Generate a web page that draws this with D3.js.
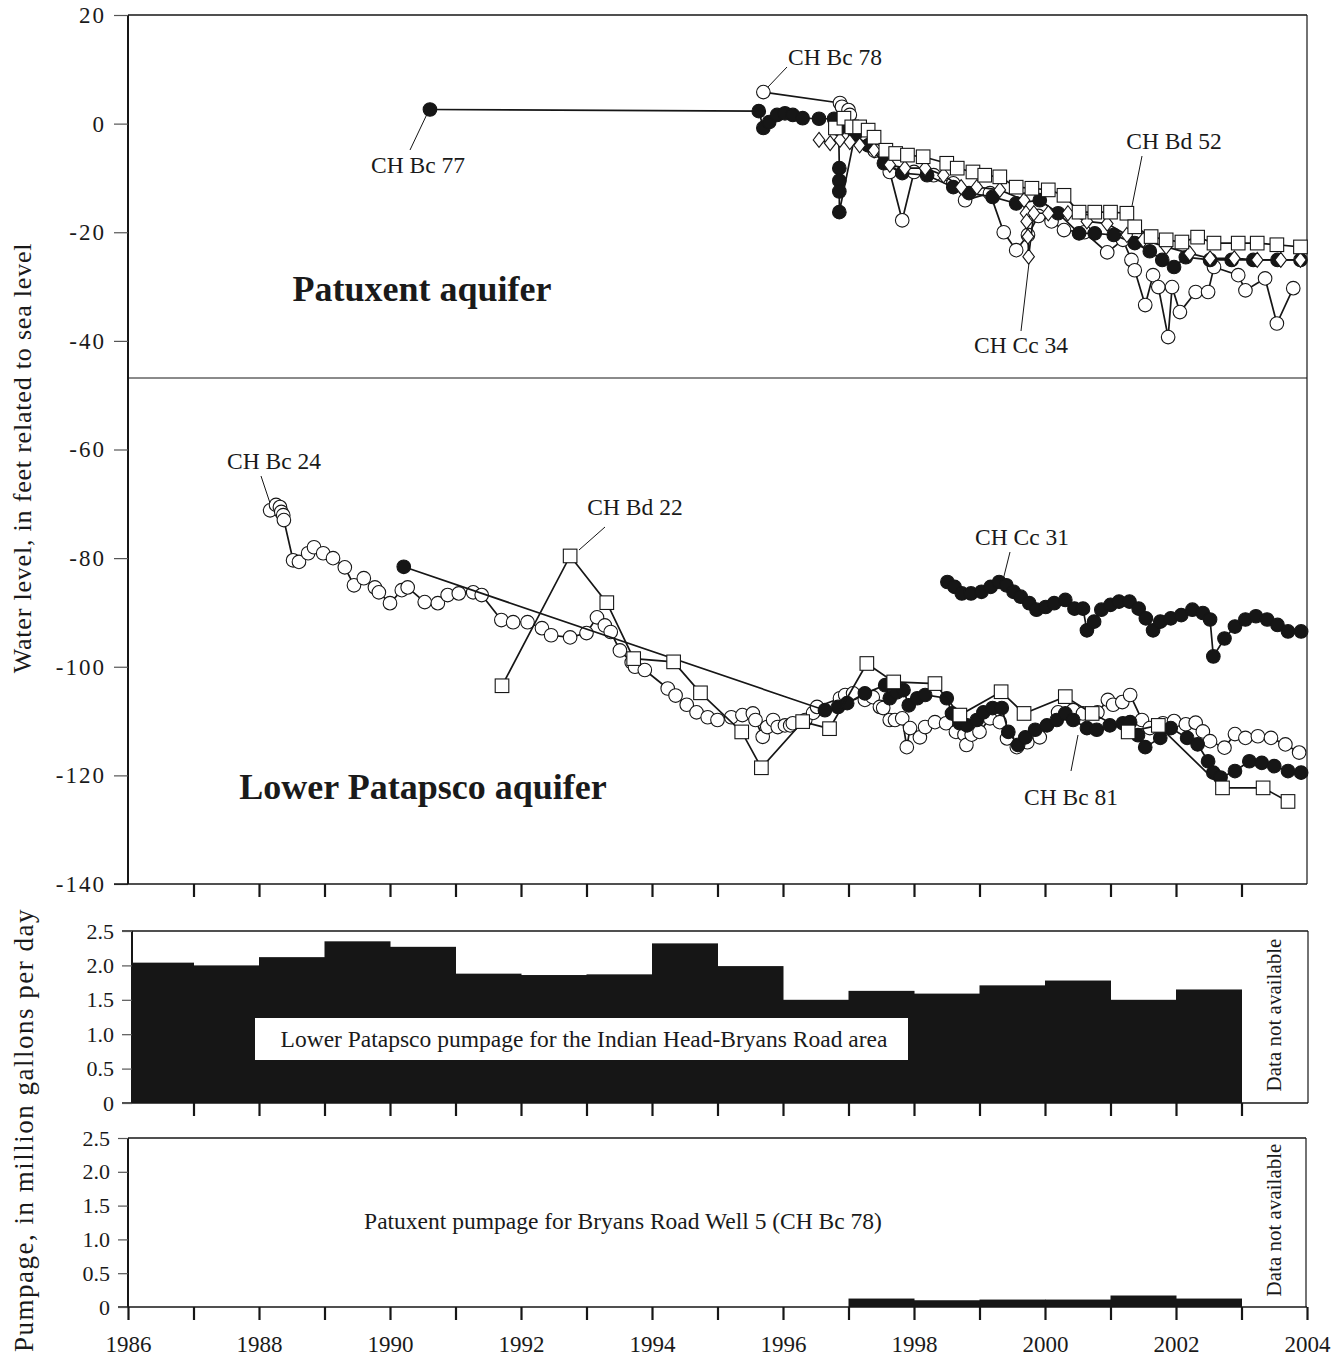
<!DOCTYPE html>
<html>
<head>
<meta charset="utf-8">
<script src="https://cdn.jsdelivr.net/npm/d3@7"></script>
<style>
  body { margin: 0; background: #fff; }
  svg text { font-family: "Liberation Serif", "Times New Roman", serif; fill: #1a1a1a; }
</style>
</head>
<body>
<svg id="chart" width="1344" height="1360"></svg>
<script>
// ---- data: [decimal year, water level (ft)] ----
const bc77 = [[1990.61, 2.6], [1995.63, 2.3], [1995.7, -0.8], [1995.79, 0.3], [1995.91, 1.6], [1996.03, 1.9],
  [1996.15, 1.6], [1996.3, 1.0], [1996.55, 0.9], [1996.78, 0.9], [1996.85, -1.0], [1996.86, -8.2], [1996.86, -10.5],
  [1996.86, -12.5], [1996.86, -16.3], [1997.1, -2.0], [1997.3, -4.0], [1997.54, -7.3], [1997.82, -9.1],
  [1998.2, -9.5], [1998.6, -11.7], [1998.84, -12.8], [1999.2, -13.5], [1999.56, -14.7], [1999.92, -14.1],
  [2000.2, -16.5], [2000.52, -20.2], [2000.76, -20.2], [2001.05, -20.5], [2001.37, -22], [2001.6, -23.5],
  [2001.79, -25.1], [2001.97, -26.4], [2002.15, -24.6], [2002.52, -25.1], [2002.85, -25.1], [2003.18, -25.1],
  [2003.55, -25.1], [2003.9, -25.1]];

const bc78 = [[1995.7, 5.8], [1996.87, 3.8], [1996.9, 3.1], [1997.0, 2.5], [1997.02, 1.6], [1997.2, -2.0],
  [1997.4, -5.0], [1997.63, -8.9], [1997.82, -17.8], [1998.0, -8.9], [1998.3, -9.5], [1998.6, -11.0],
  [1998.78, -14.1], [1999.16, -12.8], [1999.37, -20.0], [1999.56, -23.3], [1999.74, -20.5], [1999.9, -17.0],
  [2000.1, -18.0], [2000.29, -19.6], [2000.6, -20.0], [2000.95, -23.7], [2001.19, -21.4], [2001.32, -25.1],
  [2001.37, -27.0], [2001.53, -33.4], [2001.65, -27.9], [2001.73, -30.1], [2001.88, -39.3], [2001.94, -30.1],
  [2002.06, -34.7], [2002.3, -31.0], [2002.49, -31.0], [2002.58, -26.4], [2002.95, -27.9], [2003.06, -30.7],
  [2003.36, -28.5], [2003.54, -36.8], [2003.79, -30.3]];

const bd52 = [[1996.8, -0.8], [1996.93, 1.0], [1997.05, -0.6], [1997.17, -0.6], [1997.3, -1.2], [1997.39, -2.5],
  [1997.57, -4.9], [1997.72, -5.5], [1997.9, -5.8], [1998.14, -6.1], [1998.5, -7.3], [1998.66, -8.2],
  [1998.9, -8.9], [1999.08, -9.5], [1999.31, -9.8], [1999.56, -11.7], [1999.8, -11.9], [2000.05, -12.2],
  [2000.29, -13.2], [2000.52, -16.3], [2000.76, -16.3], [2001.0, -16.3], [2001.25, -16.5], [2001.37, -19.0],
  [2001.62, -20.8], [2001.85, -21.4], [2002.09, -21.8], [2002.33, -20.9], [2002.58, -22.0], [2002.95, -22.0],
  [2003.24, -22.0], [2003.54, -22.3], [2003.9, -22.7]];

const cc34 = [[1996.55, -3.0], [1996.72, -3.6], [1996.87, -3.0], [1997.02, -3.4], [1997.17, -4.0], [1997.39, -4.9],
  [1997.63, -7.6], [1997.86, -8.2], [1998.17, -8.2], [1998.45, -9.5], [1998.72, -11.7], [1998.96, -11.7],
  [1999.31, -12.2], [1999.68, -14.1], [1999.71, -16.5], [1999.72, -18.0], [1999.74, -20.8], [1999.75, -24.5],
  [1999.83, -16.5], [2000.05, -16.5], [2000.35, -16.5], [2000.64, -18.0], [2000.95, -18.4], [2001.25, -20.5],
  [2001.5, -21.4], [2001.85, -22.7], [2002.21, -23.9], [2002.52, -24.8], [2002.89, -24.8], [2003.24, -25.1],
  [2003.6, -25.1], [2003.9, -25.1]];

const bc24 = [[1988.17, -71.2], [1988.26, -70.2], [1988.32, -70.6], [1988.34, -71.5], [1988.37, -72.1],
  [1988.38, -73.0], [1988.52, -80.4], [1988.61, -80.7], [1988.75, -79.1], [1988.84, -78.0], [1988.98, -79.1],
  [1989.13, -80.0], [1989.31, -81.7], [1989.45, -85.0], [1989.6, -83.7], [1989.77, -85.4], [1989.83, -86.3],
  [1990.0, -88.3], [1990.18, -85.9], [1990.27, -85.4], [1990.53, -88.1], [1990.73, -88.3], [1990.88, -86.8],
  [1991.05, -86.5], [1991.27, -86.3], [1991.4, -86.8], [1991.7, -91.4], [1991.88, -91.8], [1992.1, -91.8],
  [1992.32, -92.9], [1992.46, -94.2], [1992.75, -94.6], [1993.0, -93.8], [1993.16, -90.9], [1993.28, -92.4],
  [1993.37, -93.6], [1993.51, -97.0], [1993.69, -99.2], [1993.74, -100.0], [1993.89, -100.6], [1994.24, -104.0],
  [1994.36, -105.3], [1994.53, -107.0], [1994.68, -108.4], [1994.85, -109.3], [1995.0, -109.8],
  [1995.21, -109.3], [1995.38, -108.9], [1995.54, -108.6], [1995.58, -109.8], [1995.69, -112.9],
  [1995.76, -111.1], [1995.85, -109.8], [1995.92, -111.1], [1996.03, -110.8], [1996.11, -110.8],
  [1996.15, -110.4], [1996.34, -109.8], [1996.46, -108.5], [1996.52, -107.4], [1996.87, -105.8],
  [1996.95, -105.2], [1997.07, -104.9], [1997.25, -106.1], [1997.37, -105.6], [1997.48, -107.4],
  [1997.53, -107.6], [1997.63, -109.8], [1997.71, -109.8], [1997.82, -109.5], [1997.89, -114.8],
  [1997.94, -111.3], [1998.09, -113.0], [1998.17, -111.1], [1998.32, -110.2], [1998.49, -110.4],
  [1998.64, -112.0], [1998.77, -112.5], [1998.8, -114.4], [1998.88, -112.5], [1999.0, -112.0],
  [1999.16, -109.5], [1999.31, -110.2], [1999.42, -113.2], [1999.57, -114.8], [1999.73, -113.9],
  [1999.92, -113.0], [2000.2, -108.4], [2000.43, -108.0], [2000.58, -108.6], [2000.8, -108.4],
  [2000.96, -106.1], [2001.04, -107.0], [2001.18, -106.5], [2001.3, -105.2], [2001.48, -109.8],
  [2001.6, -111.3], [2001.8, -110.4], [2001.97, -110.0], [2002.15, -110.6], [2002.3, -110.3],
  [2002.41, -111.9], [2002.52, -113.7], [2002.74, -114.9], [2002.9, -112.4], [2003.06, -113.1],
  [2003.25, -112.8], [2003.45, -113.1], [2003.67, -114.3], [2003.88, -115.8]];

const bc81 = [[1990.21, -81.6], [1996.64, -108.0], [1996.84, -107.4], [1996.98, -106.7], [1997.25, -104.9],
  [1997.56, -103.4], [1997.63, -105.8], [1997.74, -104.7], [1997.84, -104.3], [1997.92, -107.1],
  [1998.05, -105.8], [1998.17, -105.2], [1998.5, -105.8], [1998.58, -108.6], [1998.7, -110.4],
  [1998.81, -110.8], [1998.96, -109.8], [1999.06, -108.4], [1999.2, -107.6], [1999.34, -107.6],
  [1999.44, -112.0], [1999.59, -114.4], [1999.7, -113.0], [1999.85, -111.6], [2000.03, -110.8],
  [2000.18, -109.8], [2000.31, -108.6], [2000.43, -109.8], [2000.64, -111.3], [2000.79, -111.6],
  [2000.99, -110.8], [2001.19, -110.4], [2001.3, -110.2], [2001.42, -112.6], [2001.53, -114.8],
  [2001.76, -113.1], [2001.92, -111.3], [2002.17, -113.1], [2002.33, -114.3], [2002.49, -117.4],
  [2002.57, -119.5], [2002.68, -120.4], [2002.9, -119.2], [2003.12, -117.4], [2003.31, -117.7],
  [2003.5, -118.3], [2003.71, -119.2], [2003.91, -119.5]];

const cc31 = [[1998.51, -84.4], [1998.62, -85.3], [1998.73, -86.5], [1998.87, -86.5], [1999.03, -86.2],
  [1999.17, -85.3], [1999.3, -84.4], [1999.41, -85.0], [1999.52, -86.2], [1999.63, -87.1], [1999.76, -88.3],
  [1999.87, -89.5], [2000.01, -89.0], [2000.14, -88.3], [2000.31, -87.7], [2000.45, -89.3], [2000.58, -89.3],
  [2000.64, -93.3], [2000.75, -91.7], [2000.86, -89.5], [2001.0, -88.6], [2001.13, -88.0], [2001.29, -88.0],
  [2001.43, -89.3], [2001.54, -91.1], [2001.65, -93.3], [2001.76, -91.7], [2001.92, -91.1], [2002.08, -90.5],
  [2002.25, -89.5], [2002.41, -90.1], [2002.52, -91.3], [2002.57, -98.1], [2002.74, -94.8], [2002.9, -92.6],
  [2003.06, -91.3], [2003.22, -90.7], [2003.39, -91.3], [2003.55, -92.3], [2003.71, -93.5], [2003.91, -93.5]];

const bd22 = [[1991.71, -103.5], [1992.75, -79.6], [1993.31, -88.2], [1993.72, -98.5], [1994.33, -99.1],
  [1994.74, -104.8], [1995.37, -112.0], [1995.67, -118.6], [1996.3, -110.1], [1996.71, -111.4],
  [1997.28, -99.4], [1997.69, -102.8], [1998.32, -103.1], [1998.7, -108.9], [1999.33, -104.6],
  [1999.68, -108.6], [2000.31, -105.5], [2000.72, -108.6], [2001.27, -112.0], [2001.73, -110.8],
  [2002.71, -122.3], [2003.33, -122.3], [2003.71, -124.8]];

// pumpage, million gallons per day, by calendar year
const pumpYears = d3.range(1986, 2003);
const patapscoPump = [2.04, 2.0, 2.12, 2.35, 2.27, 1.88, 1.86, 1.87, 2.32, 1.99, 1.50, 1.63, 1.59, 1.71, 1.78, 1.50, 1.65];
const patuxentPumpYears = d3.range(1997, 2003);
const patuxentPump = [0.125, 0.10, 0.11, 0.11, 0.17, 0.125];

const levelTicks = [20, 0, -20, -40, -60, -80, -100, -120, -140];
const pumpTicks = [0, 0.5, 1.0, 1.5, 2.0, 2.5];
const yearLabels = d3.range(1986, 2005, 2);

// ---- layout ----
const svg = d3.select('#chart');
const x = d3.scaleLinear().domain([1986, 2004]).range([128, 1307]);
const yLevel = d3.scaleLinear().domain([-140, 20]).range([884, 15]);
const yMid = d3.scaleLinear().domain([0, 2.5]).range([1103, 931]);
const yBot = d3.scaleLinear().domain([0, 2.5]).range([1307, 1138]);
const ink = '#161616';
const serif = '"Liberation Serif", "Times New Roman", serif';

function frame(y0, y1, left, right) {
  const g = svg.append('g').attr('stroke', ink).attr('fill', 'none');
  g.append('line').attr('x1', left).attr('x2', right).attr('y1', y0).attr('y2', y0).attr('stroke-width', 1.5);
  g.append('line').attr('x1', right).attr('x2', right).attr('y1', y0).attr('y2', y1).attr('stroke-width', 1.2);
  g.append('line').attr('x1', left).attr('x2', left).attr('y1', y0).attr('y2', y1).attr('stroke-width', 2);
}

function yearTicks(y, years) {
  svg.append('g').attr('transform', `translate(0,${y})`)
    .call(d3.axisBottom(x).tickValues(years).tickSize(13).tickFormat(''))
    .call(g => g.select('.domain').remove())
    .call(g => g.selectAll('.tick line').attr('stroke', ink).attr('stroke-width', 2.2));
}

// ---- top panel: water levels ----
frame(15, 884, 128, 1307);
svg.append('g').attr('transform', 'translate(128,0)')
  .call(d3.axisLeft(yLevel).tickValues(levelTicks).tickSize(14).tickPadding(8).tickFormat(d => d))
  .call(g => g.select('.domain').remove())
  .call(g => g.selectAll('.tick line').attr('stroke', '#555').attr('stroke-width', 1.2))
  .call(g => g.selectAll('.tick text').attr('font-size', 23).attr('letter-spacing', 2)
    .style('font-family', serif).attr('fill', '#1a1a1a'));
svg.append('line').attr('x1', 114).attr('x2', 1307).attr('y1', 884).attr('y2', 884)
  .attr('stroke', ink).attr('stroke-width', 1.5);
svg.append('line').attr('x1', 128).attr('x2', 1307).attr('y1', 378).attr('y2', 378)
  .attr('stroke', ink).attr('stroke-width', 1);
yearTicks(884, d3.range(1987, 2004));

const plot = svg.append('g');
const line = d3.line().x(d => x(d[0])).y(d => yLevel(d[1]));
const diamond = 'M0,-7.5L5.8,0L0,7.5L-5.8,0Z';

function series(data, shape, filled) {
  const g = plot.append('g');
  g.append('path').datum(data).attr('d', line)
    .attr('fill', 'none').attr('stroke', ink).attr('stroke-width', 1.7);
  const fill = filled ? ink : '#fff';
  if (shape === 'circle') {
    g.selectAll('circle').data(data).enter().append('circle')
      .attr('cx', d => x(d[0])).attr('cy', d => yLevel(d[1])).attr('r', 6.8)
      .attr('fill', fill).attr('stroke', ink).attr('stroke-width', 1.1);
  } else if (shape === 'square') {
    g.selectAll('rect').data(data).enter().append('rect')
      .attr('x', d => x(d[0]) - 6.8).attr('y', d => yLevel(d[1]) - 6.8)
      .attr('width', 13.6).attr('height', 13.6)
      .attr('fill', fill).attr('stroke', ink).attr('stroke-width', 1.1);
  } else {
    g.selectAll('path.dia').data(data).enter().append('path').attr('class', 'dia')
      .attr('d', diamond)
      .attr('transform', d => `translate(${x(d[0])},${yLevel(d[1])})`)
      .attr('fill', fill).attr('stroke', ink).attr('stroke-width', 1.1);
  }
}

series(bc78, 'circle', false);
series(bc77, 'circle', true);
series(cc34, 'diamond', false);
series(bd52, 'square', false);
series(bc24, 'circle', false);
series(bc81, 'circle', true);
series(cc31, 'circle', true);
series(bd22, 'square', false);

// well labels with leader lines
const wellLabels = [
  { t: 'CH Bc 77', x: 418, y: 173, l: [410, 150, 428, 112] },
  { t: 'CH Bc 78', x: 835, y: 65, l: [787, 67, 768, 87] },
  { t: 'CH Bd 52', x: 1174, y: 149, l: [1142, 156, 1132, 206] },
  { t: 'CH Cc 34', x: 1021, y: 353, l: [1021, 331, 1029, 263] },
  { t: 'CH Bc 24', x: 274, y: 469, l: [261, 476, 270, 503] },
  { t: 'CH Bd 22', x: 635, y: 515, l: [605, 527, 579, 550] },
  { t: 'CH Cc 31', x: 1022, y: 545, l: [1010, 552, 1003, 580] },
  { t: 'CH Bc 81', x: 1071, y: 805, l: [1071, 771, 1078, 735] }
];
wellLabels.forEach(w => {
  svg.append('line').attr('x1', w.l[0]).attr('y1', w.l[1]).attr('x2', w.l[2]).attr('y2', w.l[3])
    .attr('stroke', ink).attr('stroke-width', 1);
  svg.append('text').attr('x', w.x).attr('y', w.y).attr('text-anchor', 'middle')
    .attr('font-size', 23.5).text(w.t);
});

svg.append('text').attr('x', 422).attr('y', 301).attr('text-anchor', 'middle')
  .attr('font-size', 36).attr('font-weight', 'bold').text('Patuxent aquifer');
svg.append('text').attr('x', 423).attr('y', 799).attr('text-anchor', 'middle')
  .attr('font-size', 36).attr('font-weight', 'bold').text('Lower Patapsco aquifer');

svg.append('text').attr('transform', 'translate(31,458) rotate(-90)').attr('text-anchor', 'middle')
  .attr('font-size', 26).attr('letter-spacing', 0.8).text('Water level, in feet related to sea level');

// ---- middle panel: Lower Patapsco pumpage ----
function pumpAxis(scale, left) {
  svg.append('g').attr('transform', `translate(${left},0)`)
    .call(d3.axisLeft(scale).tickValues(pumpTicks).tickSize(10).tickPadding(8)
      .tickFormat(d => d === 0 ? '0' : d3.format('.1f')(d)))
    .call(g => g.select('.domain').remove())
    .call(g => g.selectAll('.tick line').attr('stroke', '#555').attr('stroke-width', 1.2))
    .call(g => g.selectAll('.tick text').attr('font-size', 22)
      .style('font-family', serif).attr('fill', '#1a1a1a'));
}

svg.append('g').selectAll('rect').data(pumpYears).enter().append('rect')
  .attr('x', d => Math.max(x(d), 132)).attr('width', d => x(d + 1) - Math.max(x(d), 132) + 0.5)
  .attr('y', (d, i) => yMid(patapscoPump[i])).attr('height', (d, i) => yMid(0) - yMid(patapscoPump[i]))
  .attr('fill', ink);
frame(931, 1103, 132, 1308);
svg.append('line').attr('x1', 122).attr('x2', 132).attr('y1', 931).attr('y2', 931).attr('stroke', ink).attr('stroke-width', 1.5);
svg.append('line').attr('x1', 122).attr('x2', 1308).attr('y1', 1103).attr('y2', 1103).attr('stroke', ink).attr('stroke-width', 1.5);
pumpAxis(yMid, 132);
yearTicks(1103, d3.range(1987, 2004));

svg.append('rect').attr('x', 255).attr('y', 1018).attr('width', 653).attr('height', 42).attr('fill', '#fff');
svg.append('text').attr('x', 584).attr('y', 1047).attr('text-anchor', 'middle').attr('font-size', 23.5)
  .text('Lower Patapsco pumpage for the Indian Head-Bryans Road area');
svg.append('text').attr('transform', 'translate(1281,1015) rotate(-90)').attr('text-anchor', 'middle')
  .attr('font-size', 21).text('Data not available');

// ---- bottom panel: Patuxent pumpage ----
svg.append('g').selectAll('rect').data(patuxentPumpYears).enter().append('rect')
  .attr('x', d => x(d)).attr('width', d => x(d + 1) - x(d) + 0.5)
  .attr('y', (d, i) => yBot(patuxentPump[i])).attr('height', (d, i) => yBot(0) - yBot(patuxentPump[i]))
  .attr('fill', ink);
frame(1138, 1307, 128, 1306);
svg.append('line').attr('x1', 118).attr('x2', 1307).attr('y1', 1307).attr('y2', 1307).attr('stroke', ink).attr('stroke-width', 1.5);
pumpAxis(yBot, 128);
yearTicks(1307, d3.range(1986, 2005));
svg.append('g').attr('transform', 'translate(0,1307)')
  .call(d3.axisBottom(x).tickValues(yearLabels).tickSize(0).tickPadding(29).tickFormat(d3.format('d')))
  .call(g => g.select('.domain').remove())
  .call(g => g.selectAll('.tick text').attr('font-size', 23)
    .style('font-family', serif).attr('fill', '#1a1a1a'));

svg.append('text').attr('x', 623).attr('y', 1229).attr('text-anchor', 'middle').attr('font-size', 23.5)
  .text('Patuxent pumpage for Bryans Road Well 5 (CH Bc 78)');
svg.append('text').attr('transform', 'translate(1281,1220) rotate(-90)').attr('text-anchor', 'middle')
  .attr('font-size', 21).text('Data not available');

svg.append('text').attr('transform', 'translate(33,1130) rotate(-90)').attr('text-anchor', 'middle')
  .attr('font-size', 27).attr('letter-spacing', 1.5).text('Pumpage, in million gallons per day');
</script>
</body>
</html>
